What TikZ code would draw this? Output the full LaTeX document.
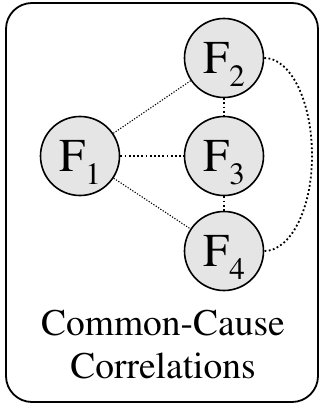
\documentclass[tikz,border=0pt]{standalone}
\usepackage[T1]{fontenc}
\usepackage{mathptmx}
\begin{document}
\begin{tikzpicture}[x=1pt,y=-1pt,
  fnode/.style={circle, draw=black, line width=1.6pt, fill=black!10, minimum size=79pt, inner sep=0pt},
  dotl/.style={line width=1.8pt, dash pattern=on 1.8pt off 2.4pt},
  finedot/.style={line width=1.1pt, dash pattern=on 1.2pt off 1.6pt}]
\useasboundingbox (0,0) rectangle (321,406);
\draw[line width=1.8pt, rounded corners=26pt] (6,3) rectangle (318,402);
\newcommand{\flab}[1]{\fontsize{47}{50}\selectfont F\smash{\raisebox{-13pt}{\fontsize{31}{33}\selectfont #1}}}
\node[fnode] (f1) at (80,156) {\flab{1}};
\node[fnode] (f2) at (224,58) {\flab{2}};
\node[fnode] (f3) at (224,156) {\flab{3}};
\node[fnode] (f4) at (224,251) {\flab{4}};
\draw[finedot] (f1) -- (f2);
\draw[finedot] (f1) -- (f4);
\draw[dotl] (f1) -- (f3);
\draw[dotl] (f2) -- (f3);
\draw[dotl] (f3) -- (f4);
\draw[dotl] (f2.east) .. controls (290,58) and (312,100) .. (312,156) .. controls (312,210) and (290,251) .. (f4.east);
\node[font=\fontsize{37.5}{43}\selectfont, align=center, inner sep=0pt] (cap) at (163,344) {Common-Cause\\Correlations};
\end{tikzpicture}
\end{document}
